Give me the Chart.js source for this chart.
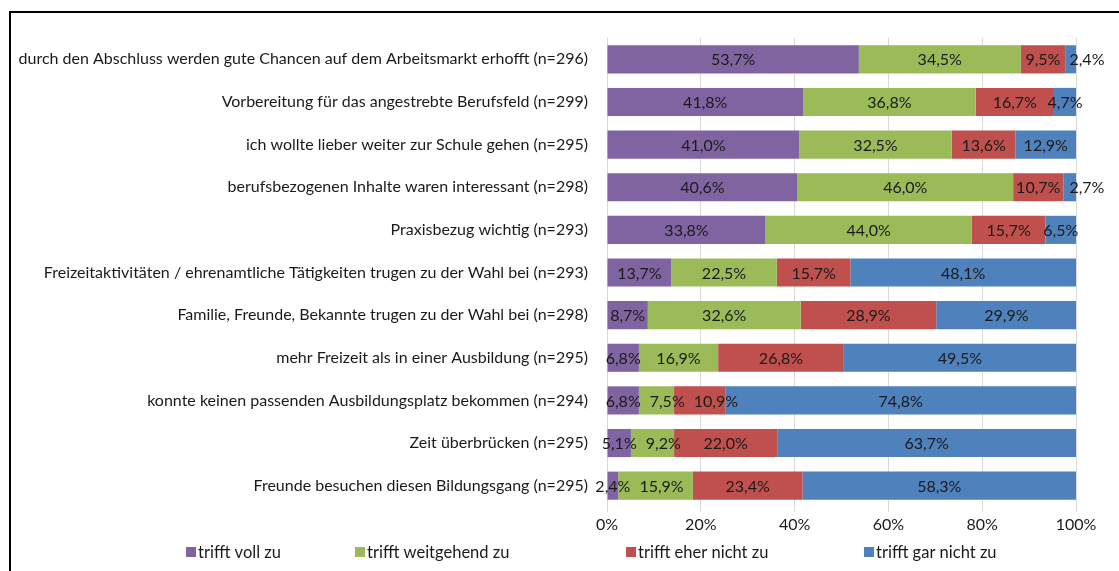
<!DOCTYPE html>
<html>
<head>
<meta charset="utf-8">
<script src="https://cdn.jsdelivr.net/npm/chart.js@4/dist/chart.umd.min.js"></script>
<style>
    html, body { margin: 0; padding: 0; background: #fff; overflow: hidden; }
    #wrap { position: relative; width: 1119px; height: 571px; }
    #frame { position: absolute; left: 9px; top: 11px; width: 2000px; height: 2000px;
             border-left: 2px solid #000; border-top: 2px solid #000; }
    canvas { position: absolute; left: 0; top: 0; }
</style>
</head>
<body>
<div id="wrap">
    <div id="frame"></div>
    <canvas id="js--chart" width="1119" height="571"></canvas>
</div>
<script>
const labels = [
    "durch den Abschluss werden gute Chancen auf dem Arbeitsmarkt erhofft (n=296)",
    "Vorbereitung für das angestrebte Berufsfeld (n=299)",
    "ich wollte lieber weiter zur Schule gehen (n=295)",
    "berufsbezogenen Inhalte waren interessant (n=298)",
    "Praxisbezug wichtig (n=293)",
    "Freizeitaktivitäten / ehrenamtliche Tätigkeiten trugen zu der Wahl bei (n=293)",
    "Familie, Freunde, Bekannte trugen zu der Wahl bei (n=298)",
    "mehr Freizeit als in einer Ausbildung (n=295)",
    "konnte keinen passenden Ausbildungsplatz bekommen (n=294)",
    "Zeit überbrücken (n=295)",
    "Freunde besuchen diesen Bildungsgang (n=295)",
];
const trifftVoll        = [53.7, 41.8, 41.0, 40.6, 33.8, 13.7, 8.7, 6.8, 6.8, 5.1, 2.4];
const trifftWeitgehend  = [34.5, 36.8, 32.5, 46.0, 44.0, 22.5, 32.6, 16.9, 7.5, 9.2, 15.9];
const trifftEherNicht   = [9.5, 16.7, 13.6, 10.7, 15.7, 15.7, 28.9, 26.8, 10.9, 22.0, 23.4];
const trifftGarNicht    = [2.4, 4.7, 12.9, 2.7, 6.5, 48.1, 29.9, 49.5, 74.8, 63.7, 58.3];
const seriesNames = ["trifft voll zu", "trifft weitgehend zu", "trifft eher nicht zu", "trifft gar nicht zu"];
const colors = ['#8064A2', '#9BBB59', '#C0504D', '#4F81BD'];
const xTicks = [0, 20, 40, 60, 80, 100];

const FONT = 'Lato, "Liberation Sans", sans-serif';
const legendX = [186, 355, 626, 864]; // wie im Original verteilt

// Prozentwerte in die Balken schreiben (Excel-Stil, mit Komma)
const segmentLabels = {
    id: 'segmentLabels',
    afterDatasetsDraw(chart) {
        const ctx = chart.ctx;
        ctx.save();
        ctx.font = '16px ' + FONT;
        ctx.fillStyle = '#1a1a1a';
        ctx.textAlign = 'center';
        ctx.textBaseline = 'middle';
        for (let i = 0; i < labels.length; i++) {
            let prevEnd = -1000;
            chart.data.datasets.forEach((ds, d) => {
                const bar = chart.getDatasetMeta(d).data[i];
                const text = ds.data[i].toFixed(1).replace('.', ',') + '%';
                const w = ctx.measureText(text).width;
                let cx = (bar.base + bar.x) / 2;
                if (cx - w / 2 < prevEnd + 9) {
                    cx = prevEnd + 9 + w / 2; /* nicht ueberlappen */
                }
                ctx.fillText(text, cx, bar.y + 1);
                prevEnd = cx + w / 2;
            });
        }
        ctx.restore();
    }
};

const bottomLegend = {
    id: 'bottomLegend',
    afterDraw(chart) {
        const ctx = chart.ctx;
        ctx.save();
        ctx.font = '16.5px ' + FONT;
        ctx.textBaseline = 'middle';
        ctx.textAlign = 'left';
        chart.data.datasets.forEach((ds, d) => {
            const x = legendX[d];
            const y = 552;
            ctx.fillStyle = ds.backgroundColor;
            ctx.fillRect(x, y - 5, 10, 10);
            ctx.fillStyle = '#1a1a1a';
            ctx.fillText(ds.label, x + 12, y + 1);
        });
        ctx.restore();
    }
};

const seriesData = [trifftVoll, trifftWeitgehend, trifftEherNicht, trifftGarNicht];

const data = {
    labels: labels,
    datasets: seriesData.map((values, i) => ({
        label: seriesNames[i],
        data: values,
        backgroundColor: colors[i],
        borderWidth: 0,
        categoryPercentage: 1,
        barPercentage: 0.66,
    }))
};

const config = {
    type: 'bar',
    data: data,
    options: {
        responsive: false,
        animation: false,
        indexAxis: 'y',
        layout: { padding: { top: 38, right: 43, left: 0, bottom: 0 } },
        plugins: {
            legend: { display: false },
            tooltip: { enabled: false },
        },
        scales: {
            x: {
                stacked: true,
                min: 0,
                max: 100,
                afterBuildTicks: (scale) => { scale.ticks = xTicks.map(v => ({ value: v })); },
                afterFit: (scale) => { scale.height = 64; },
                ticks: {
                    callback: (v) => v + '%',
                    font: { family: FONT, size: 16 },
                    color: '#1a1a1a',
                    padding: 3,
                    maxRotation: 0,
                },
                grid: { color: '#D9D9D9', tickLength: 5, tickColor: '#D9D9D9' },
                border: { display: false },
            },
            y: {
                stacked: true,
                afterFit: (scale) => { scale.width = 607; },
                grid: { display: false, drawTicks: false },
                border: { display: true, color: '#D9D9D9' },
                ticks: {
                    font: { family: FONT, size: 16 },
                    color: '#1a1a1a',
                    padding: 19,
                    autoSkip: false,
                },
            },
        },
    },
    plugins: [segmentLabels, bottomLegend],
};

const chart1 = new Chart(document.getElementById("js--chart"), config);
</script>
</body>
</html>
